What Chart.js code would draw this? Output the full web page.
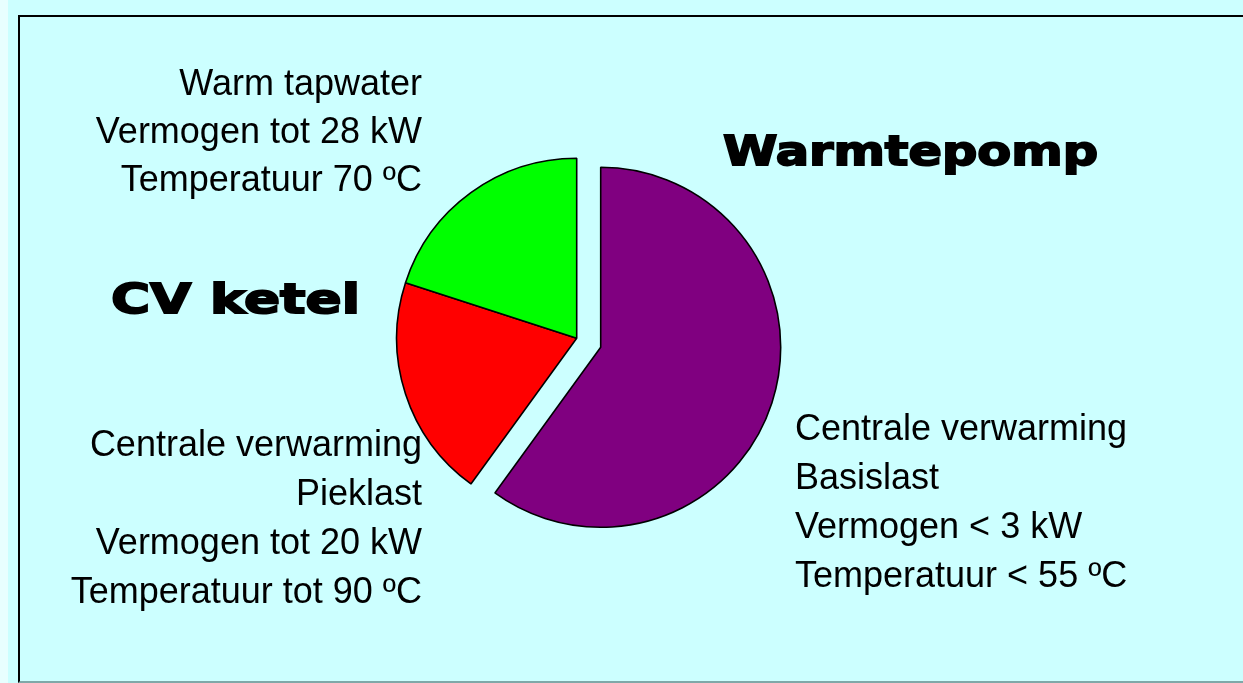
<!DOCTYPE html>
<html><head><meta charset="utf-8">
<script src="https://cdn.jsdelivr.net/npm/chart.js@4.4.1/dist/chart.umd.min.js"></script>
<style>
html,body{margin:0;padding:0;}
body{width:1243px;height:683px;background:#CCFFFF;position:relative;overflow:hidden;font-family:"Liberation Sans",Arial,sans-serif;}
#strip{position:absolute;left:0;top:0;width:8px;height:683px;background:#E8FFFF;}
#frame{position:absolute;left:18px;top:15px;width:1225px;height:668px;border-top:2px solid #000;border-left:2px solid #000;border-bottom:2px solid #7FA8A8;box-sizing:border-box;}
canvas{position:absolute;left:0;top:0;}
.blk{position:absolute;font-size:36px;color:#000;white-space:nowrap;}
.hd{position:absolute;font-family:"DejaVu Sans",sans-serif;font-weight:bold;font-size:40px;line-height:40px;-webkit-text-stroke:1.8px #000;color:#000;transform-origin:0 0;white-space:nowrap;}
</style></head>
<body>
<div id="strip"></div>
<div id="frame"></div>
<canvas id="pieBase" width="1243" height="683"></canvas>
<canvas id="pieExploded" width="1243" height="683"></canvas>
<div id="texts"></div>
<script>
// ---- data ----
const sliceLabels = ['Warmtepomp', 'CV ketel', 'Warm tapwater'];
const sliceValues = [60, 20, 20];
const sliceColors = ['#800080', '#FF0000', '#00FF00'];
const explodedSlice = 0;

const headings = ['Warmtepomp', 'CV ketel'];
const tapwaterLines = ['Warm tapwater', 'Vermogen tot 28 kW', 'Temperatuur 70 ºC'];
const ketelLines = ['Centrale verwarming', 'Pieklast', 'Vermogen tot 20 kW', 'Temperatuur tot 90 ºC'];
const pompLines = ['Centrale verwarming', 'Basislast', 'Vermogen < 3 kW', 'Temperatuur < 55 ºC'];

// ---- layout ----
const W = 1243, H = 683;
const pieCenter = {x: 576.7, y: 338.3};
const explodeShift = {x: 24, y: 9};
const pieRadius = 180;

function paddingFor(cx, cy) {
  const dx = 2 * cx - W, dy = 2 * cy - H;
  return {
    left: dx > 0 ? dx : 0, right: dx < 0 ? -dx : 0,
    top: dy > 0 ? dy : 0, bottom: dy < 0 ? -dy : 0
  };
}

function makePie(id, visibleIdx, cx, cy) {
  const bg = sliceColors.map((c, i) => visibleIdx.includes(i) ? c : 'rgba(0,0,0,0)');
  const bc = sliceColors.map((c, i) => visibleIdx.includes(i) ? '#000000' : 'rgba(0,0,0,0)');
  return new Chart(document.getElementById(id), {
    type: 'pie',
    data: {
      labels: sliceLabels,
      datasets: [{data: sliceValues, backgroundColor: bg, borderColor: bc, borderWidth: 1.6}]
    },
    options: {
      responsive: false, animation: false, events: [],
      radius: pieRadius,
      layout: {padding: paddingFor(cx, cy)},
      plugins: {legend: {display: false}, tooltip: {enabled: false}, title: {display: false}}
    }
  });
}

const others = sliceValues.map((v, i) => i).filter(i => i !== explodedSlice);
makePie('pieBase', others, pieCenter.x, pieCenter.y);
makePie('pieExploded', [explodedSlice], pieCenter.x + explodeShift.x, pieCenter.y + explodeShift.y);

// ---- texts ----
const host = document.getElementById('texts');
function block(lines, opts) {
  const d = document.createElement('div');
  d.className = 'blk';
  d.style.lineHeight = opts.lh + 'px';
  d.style.top = (opts.baseline - opts.base0) + 'px';
  if (opts.align === 'right') { d.style.right = (W - opts.x) + 'px'; d.style.textAlign = 'right'; }
  else { d.style.left = opts.x + 'px'; }
  lines.forEach(t => { const l = document.createElement('div'); l.textContent = t; d.appendChild(l); });
  host.appendChild(d);
}
block(tapwaterLines, {x: 422, baseline: 95, lh: 48, base0: 36.5, align: 'right'});
block(ketelLines, {x: 422, baseline: 456, lh: 49, base0: 37, align: 'right'});
block(pompLines, {x: 795, baseline: 440, lh: 49, base0: 37, align: 'left'});

function heading(text, x, baseline, targetW) {
  const s = document.createElement('span');
  s.className = 'hd';
  s.textContent = text;
  s.style.left = x + 'px';
  s.style.top = (baseline - 34) + 'px';
  host.appendChild(s);
  const w = s.getBoundingClientRect().width;
  s.style.transform = 'scaleX(' + (targetW / w) + ')';
}
heading(headings[0], 723, 165, 375);
heading(headings[1], 111, 313, 249);
</script>
</body></html>
